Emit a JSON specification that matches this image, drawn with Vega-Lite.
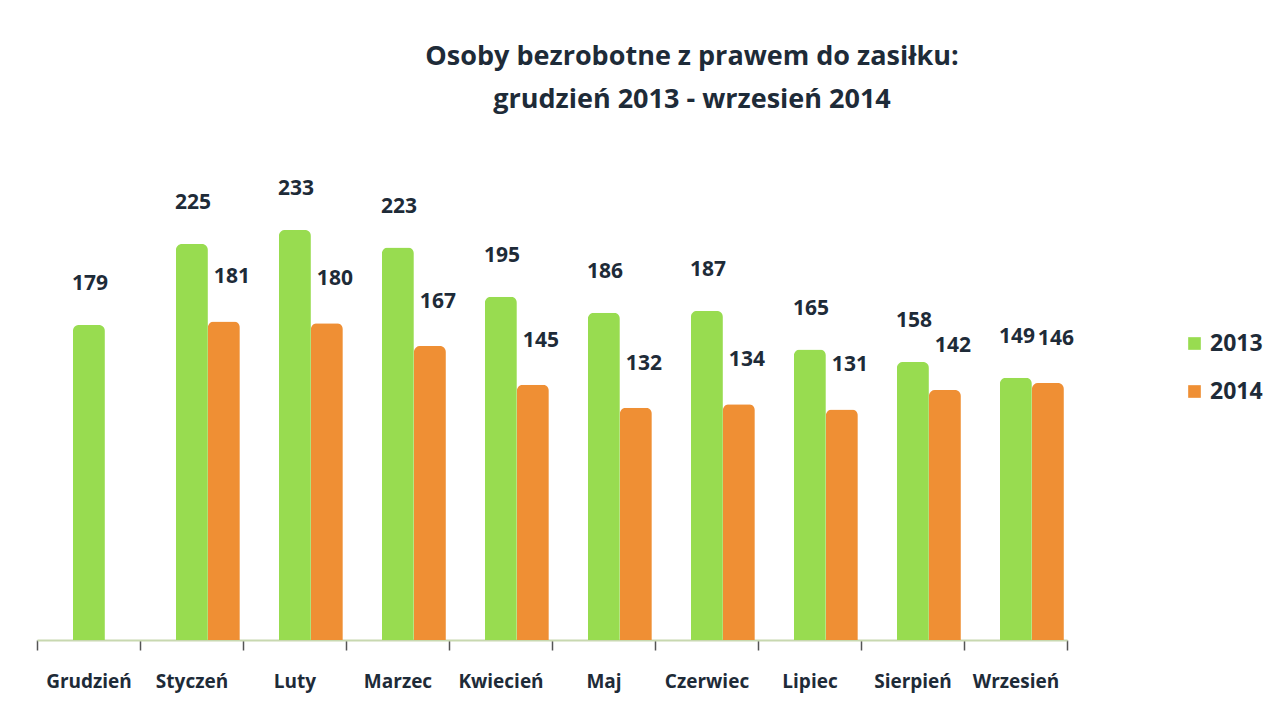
{
  "$schema": "https://vega.github.io/schema/vega-lite/v6.json",
  "width": 1030,
  "height": 440,
  "autosize": {"type": "none"},
  "padding": {"left": 37, "top": 200, "right": 204, "bottom": 73},
  "background": "white",
  "title": {
    "text": ["Osoby bezrobotne z prawem do zasiłku:", "grudzień 2013 - wrzesień 2014"],
    "anchor": "middle",
    "dx": 140,
    "offset": 64,
    "font": "Open Sans",
    "fontSize": 27,
    "fontWeight": "bold",
    "color": "#1e2b38",
    "lineHeight": 43
  },
  "data": {
    "values": [
      {"miesiac": "Grudzień", "rok": "2013", "osoby": 179},
      {"miesiac": "Styczeń", "rok": "2013", "osoby": 225},
      {"miesiac": "Styczeń", "rok": "2014", "osoby": 181},
      {"miesiac": "Luty", "rok": "2013", "osoby": 233},
      {"miesiac": "Luty", "rok": "2014", "osoby": 180},
      {"miesiac": "Marzec", "rok": "2013", "osoby": 223},
      {"miesiac": "Marzec", "rok": "2014", "osoby": 167},
      {"miesiac": "Kwiecień", "rok": "2013", "osoby": 195},
      {"miesiac": "Kwiecień", "rok": "2014", "osoby": 145},
      {"miesiac": "Maj", "rok": "2013", "osoby": 186},
      {"miesiac": "Maj", "rok": "2014", "osoby": 132},
      {"miesiac": "Czerwiec", "rok": "2013", "osoby": 187},
      {"miesiac": "Czerwiec", "rok": "2014", "osoby": 134},
      {"miesiac": "Lipiec", "rok": "2013", "osoby": 165},
      {"miesiac": "Lipiec", "rok": "2014", "osoby": 131},
      {"miesiac": "Sierpień", "rok": "2013", "osoby": 158},
      {"miesiac": "Sierpień", "rok": "2014", "osoby": 142},
      {"miesiac": "Wrzesień", "rok": "2013", "osoby": 149},
      {"miesiac": "Wrzesień", "rok": "2014", "osoby": 146}
    ]
  },
  "encoding": {
    "x": {
      "field": "miesiac",
      "type": "nominal",
      "sort": null,
      "scale": {"paddingInner": 0, "paddingOuter": 0},
      "axis": {
        "title": null,
        "labelAngle": 0,
        "labelFont": "Open Sans",
        "labelFontSize": 19,
        "labelFontWeight": "bold",
        "labelColor": "#1e2b38",
        "labelPadding": 22,
        "ticks": true,
        "tickBand": "extent",
        "tickColor": "#555555",
        "tickSize": 10,
        "tickWidth": 1.5,
        "domainColor": "#c8d8b0",
        "domainWidth": 2
      }
    },
    "xOffset": {
      "field": "rok",
      "type": "nominal",
      "scale": {"paddingInner": 0, "paddingOuter": 0.61, "align": 0.92}
    },
    "y": {
      "field": "osoby",
      "type": "quantitative",
      "scale": {"domain": [0, 250]},
      "axis": null
    }
  },
  "layer": [
    {
      "mark": {"type": "bar", "cornerRadiusTopLeft": 6, "cornerRadiusTopRight": 6},
      "encoding": {
        "color": {
          "field": "rok",
          "type": "nominal",
          "scale": {"domain": ["2013", "2014"], "range": ["#98dc50", "#ef8f34"]},
          "legend": {
            "title": null,
            "orient": "none",
            "legendX": 1146,
            "legendY": 132,
            "symbolType": "square",
            "symbolSize": 160,
            "rowPadding": 24,
            "labelFont": "Open Sans",
            "labelFontSize": 23,
            "labelFontWeight": "bold",
            "labelColor": "#1e2b38"
          }
        }
      }
    },
    {
      "transform": [{"filter": "datum.rok == '2013'"}],
      "mark": {
        "type": "text",
        "dy": -41,
        "dx": 1,
        "font": "Open Sans",
        "fontSize": 21,
        "fontWeight": "bold",
        "color": "#1e2b38"
      },
      "encoding": {
        "text": {"field": "osoby", "type": "quantitative"}
      }
    },
    {
      "transform": [{"filter": "datum.rok == '2014'"}],
      "mark": {
        "type": "text",
        "dy": -44,
        "dx": 8,
        "font": "Open Sans",
        "fontSize": 21,
        "fontWeight": "bold",
        "color": "#1e2b38"
      },
      "encoding": {
        "text": {"field": "osoby", "type": "quantitative"}
      }
    }
  ],
  "config": {"view": {"stroke": null}}
}
